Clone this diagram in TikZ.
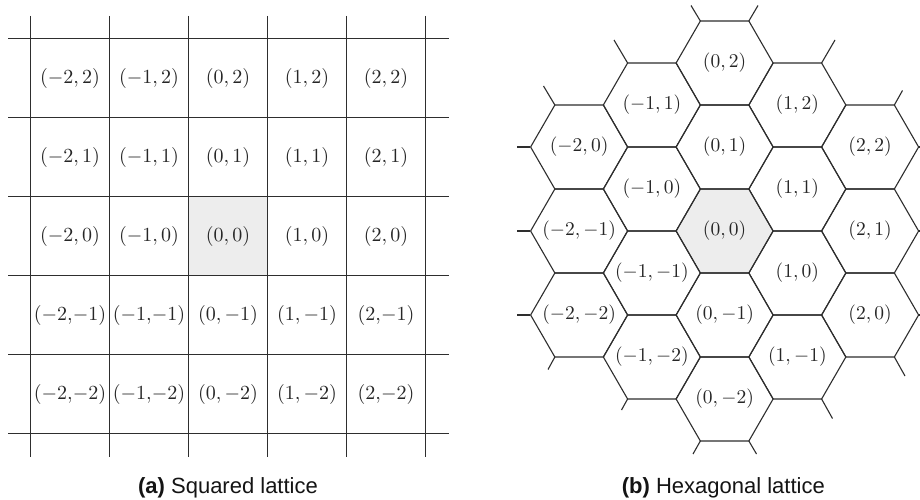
\documentclass[tikz,border=0pt]{standalone}
\usepackage{graphicx}
\usepackage{fontspec}
\newfontfamily\capfont{Liberation Sans}
\definecolor{linecol}{HTML}{2E2E2E}
\definecolor{labcol}{HTML}{262626}
\definecolor{cellgray}{HTML}{EDEDED}
\newcommand{\sqlab}[1]{\scalebox{2.0}{$#1$}}
\newcommand{\hexlab}[1]{\scalebox{1.95}{$#1$}}
\tikzset{
  latline/.style={draw=linecol, line width=1.1pt, line cap=butt, line join=miter},
  sqlabel/.style={text=labcol, inner sep=0pt},
  hexlabel/.style={text=labcol, inner sep=0pt},
  caption/.style={text=black!92, font=\capfont\fontsize{22}{26}\selectfont, inner sep=0pt}
}
\begin{document}
\begin{tikzpicture}[x=1pt,y=-1pt]
\useasboundingbox (0,0) rectangle (920,500);
\fill[white] (0,0) rectangle (920,500);
% ---------------- squared lattice ----------------
\fill[cellgray] (188.5,196.5) rectangle (267.5,275.5);
\foreach \xx in {30.5,109.5,188.5,267.5,346.5,425.5}
  \draw[latline] (\xx,16) -- (\xx,457);
\foreach \yy in {38.5,117.5,196.5,275.5,354.5,433.5}
  \draw[latline] (8,\yy) -- (449,\yy);
\foreach \c/\lab in {0/{(-2,2)},1/{(-1,2)},2/{(0,2)},3/{(1,2)},4/{(2,2)}}
  \node[sqlabel] (sqa\c) at (70+79*\c,78.2) {\sqlab{\lab}};
\foreach \c/\lab in {0/{(-2,1)},1/{(-1,1)},2/{(0,1)},3/{(1,1)},4/{(2,1)}}
  \node[sqlabel] (sqb\c) at (70+79*\c,157.2) {\sqlab{\lab}};
\foreach \c/\lab in {0/{(-2,0)},1/{(-1,0)},2/{(0,0)},3/{(1,0)},4/{(2,0)}}
  \node[sqlabel] (sqc\c) at (70+79*\c,236.2) {\sqlab{\lab}};
\foreach \c/\lab in {0/{(-2,\!-1)},1/{(-1,\!-1)},2/{(0,-1)},3/{(1,-1)},4/{(2,\!-1)}}
  \node[sqlabel] (sqd\c) at (70+79*\c,315.2) {\sqlab{\lab}};
\foreach \c/\lab in {0/{(-2,\!-2)},1/{(-1,\!-2)},2/{(0,-2)},3/{(1,-2)},4/{(2,\!-2)}}
  \node[sqlabel] (sqe\c) at (70+79*\c,394.2) {\sqlab{\lab}};
\node[caption] (capa) at (228,488) {\textbf{(a)} Squared lattice};
% ---------------- hexagonal lattice ----------------
\fill[cellgray] (724.6-48.5,231) -- ++(24.25,-42) -- ++(48.5,0) -- ++(24.25,42)
   -- ++(-24.25,42) -- ++(-48.5,0) -- cycle;
\foreach \q/\r in {0/-2,0/-1,0/0,0/1,0/2,1/-1,1/0,1/1,1/2,-1/-2,-1/-1,-1/0,-1/1,2/0,2/1,2/2,-2/-2,-2/-1,-2/0}{
  \pgfmathsetmacro\cx{724.6+72.75*\q}
  \pgfmathsetmacro\cy{231-84*(\r-\q/2)}
  \draw[latline] (\cx-48.5,\cy) -- ++(24.25,-42) -- ++(48.5,0) -- ++(24.25,42)
   -- ++(-24.25,42) -- ++(-48.5,0) -- cycle;
}
% stubs
\draw[latline] (700.35,21) -- (691,5.5);
\draw[latline] (748.85,21) -- (758,5.5);
\draw[latline] (627.6,63) -- (614,40);
\draw[latline] (554.85,105) -- (543.5,86);
\draw[latline] (821.6,63) -- (835,40);
\draw[latline] (894.35,105) -- (902.5,90.5);
\draw[latline] (530.35,147) -- (516.5,147);
\draw[latline] (530.35,231) -- (516.5,231);
\draw[latline] (530.35,315) -- (516.5,315);
\draw[latline] (918.85,147) -- (930,147);
\draw[latline] (918.85,231) -- (930,231);
\draw[latline] (918.85,315) -- (930,315);
\draw[latline] (554.85,357) -- (548,369.5);
\draw[latline] (627.6,399) -- (621.5,410);
\draw[latline] (700.35,441) -- (693,454);
\draw[latline] (748.85,441) -- (756.5,454);
\draw[latline] (821.6,399) -- (832.5,418.5);
\draw[latline] (894.35,357) -- (905,376);
% labels
\foreach \q/\r in {0/-2,0/-1,0/0,0/1,0/2,1/-1,1/0,1/1,1/2,-1/-2,-1/-1,-1/0,-1/1,2/0,2/1,2/2,-2/-2,-2/-1,-2/0}{
  \pgfmathsetmacro\cx{724.6+72.75*\q}
  \pgfmathsetmacro\cy{231-84*(\r-\q/2)}
  \node[hexlabel] (hex\q\r) at (\cx,\cy) {\hexlab{(\q,\r)}};
}
\node[caption] (capb) at (723.3,488) {\textbf{(b)} Hexagonal lattice};
\end{tikzpicture}
\end{document}
